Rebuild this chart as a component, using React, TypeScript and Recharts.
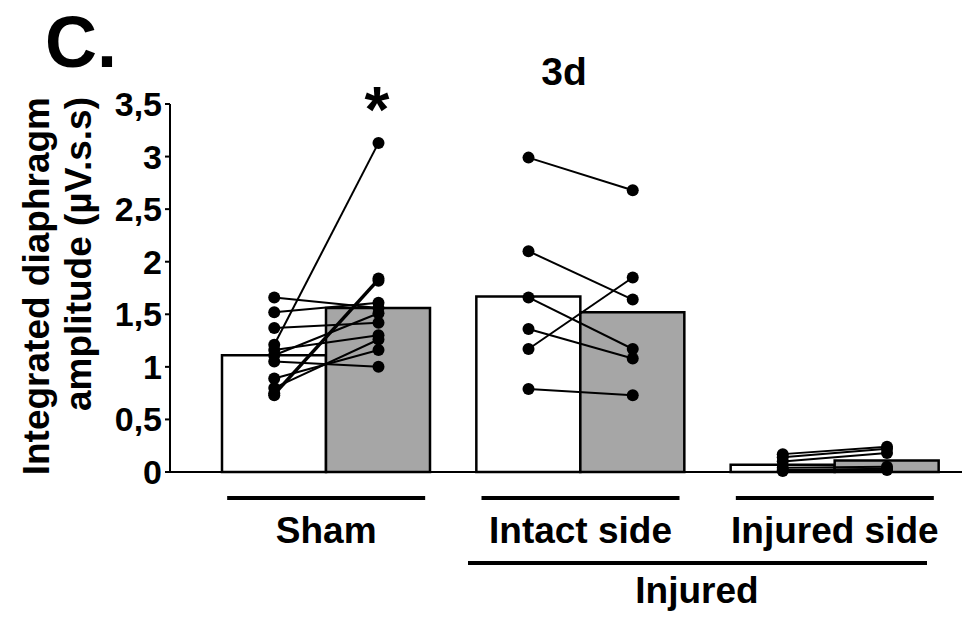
import { ComposedChart, Bar, Scatter, XAxis, YAxis } from 'recharts';

const FONT = '"Liberation Sans", Arial, Helvetica, sans-serif';

// group means (bars)
const GROUPS = ['Sham', 'Intact side', 'Injured side'];
const MEAN_WHITE = [1.11, 1.67, 0.07];
const MEAN_GRAY = [1.56, 1.52, 0.11];

// individual animals, paired values (white -> gray)
const SHAM_PRE = [1.66, 1.52, 1.37, 1.21, 1.16, 1.11, 1.05, 0.89, 0.8, 0.75, 0.73];
const SHAM_POST = [1.56, 1.61, 1.42, 3.13, 1.3, 1.51, 1.0, 1.16, 1.26, 1.84, 1.82];
const INTACT_PRE = [2.99, 2.1, 1.66, 1.36, 1.17, 0.79];
const INTACT_POST = [2.68, 1.64, 1.17, 1.08, 1.85, 0.73];
const INJURED_PRE = [0.17, 0.14, 0.1, 0.04, 0.02, 0.01];
const INJURED_POST = [0.24, 0.22, 0.18, 0.05, 0.03, 0.02];

const Y_TICKS = [0, 0.5, 1, 1.5, 2, 2.5, 3, 3.5];

// half distance between white and gray bar centres, in group units
const SIDE = 0.205;

const barData = GROUPS.map((g, i) => ({ group: g, white: MEAN_WHITE[i], gray: MEAN_GRAY[i] }));

const animals: { x: number; y: number }[][] = [];
[
  [SHAM_PRE, SHAM_POST],
  [INTACT_PRE, INTACT_POST],
  [INJURED_PRE, INJURED_POST],
].forEach(([pre, post], gi) => {
  pre.forEach((v, k) => {
    animals.push([
      { x: gi - SIDE, y: v },
      { x: gi + SIDE, y: post[k] },
    ]);
  });
});

const Dot = (props: any) => <circle cx={props.cx} cy={props.cy} r={6} fill="#000" />;

const GroupTick = ({ x, y, payload }: any) => (
  <g>
    <line x1={x - 99} x2={x + 99} y1={y + 26} y2={y + 26} stroke="#000" strokeWidth={4} />
    <text x={x} y={y + 71} textAnchor="middle" fontFamily={FONT} fontWeight="bold" fontSize={37} fill="#000">
      {payload.value}
    </text>
  </g>
);

const textStyle = { fontFamily: FONT, fontWeight: 'bold' as const, fill: '#000' };

export default function App() {
  return (
    <div style={{ position: 'absolute', left: 0, top: 0, width: 975, height: 619, background: '#fff' }}>
      <ComposedChart
        width={975}
        height={619}
        data={barData}
        margin={{ top: 104, right: 13, bottom: 117, left: 110 }}
        barGap={0}
      >
        <XAxis
          xAxisId="cat"
          dataKey="group"
          height={30}
          padding={{ left: 29, right: 0 }}
          axisLine={{ stroke: '#000', strokeWidth: 2 }}
          tickLine={false}
          tickSize={0}
          tickMargin={0}
          tick={<GroupTick />}
          interval={0}
        />
        <XAxis xAxisId="pos" dataKey="x" type="number" domain={[-0.615, 2.5]} hide />
        <YAxis
          width={60}
          domain={[0, 3.5]}
          ticks={Y_TICKS}
          interval={0}
          tickSize={5}
          tickMargin={3}
          tickFormatter={(v: number) => String(v).replace('.', ',')}
          axisLine={{ stroke: '#000', strokeWidth: 2 }}
          tickLine={{ stroke: '#000', strokeWidth: 2 }}
          tick={{ ...textStyle, fontSize: 34 }}
        />
        <Bar xAxisId="cat" dataKey="white" fill="#fff" stroke="#000" strokeWidth={2.5} barSize={104} isAnimationActive={false} />
        <Bar xAxisId="cat" dataKey="gray" fill="#a6a6a6" stroke="#000" strokeWidth={2.5} barSize={104} isAnimationActive={false} />
        {animals.map((pts, i) => (
          <Scatter
            key={i}
            xAxisId="pos"
            data={pts}
            dataKey="y"
            line={{ stroke: '#000', strokeWidth: 2 }}
            shape={<Dot />}
            isAnimationActive={false}
          />
        ))}
      </ComposedChart>
      <svg width={975} height={619} style={{ position: 'absolute', left: 0, top: 0, pointerEvents: 'none' }}>
        <text x={45} y={67} {...textStyle} fontSize={72}>C.</text>
        <text x={564} y={85} textAnchor="middle" {...textStyle} fontSize={39}>3d</text>
        <text x={377} y={132} textAnchor="middle" {...textStyle} fontSize={64}>*</text>
        <text x={49} y={97} textAnchor="end" transform="rotate(-90 49 97)" {...textStyle} fontSize={37}>
          Integrated diaphragm
        </text>
        <text x={91} y={97} textAnchor="end" transform="rotate(-90 91 97)" {...textStyle} fontSize={37}>
          amplitude (µV.s.s)
        </text>
        <line x1={468} x2={927} y1={563} y2={563} stroke="#000" strokeWidth={4} />
        <text x={697} y={603} textAnchor="middle" {...textStyle} fontSize={37}>Injured</text>
      </svg>
    </div>
  );
}
